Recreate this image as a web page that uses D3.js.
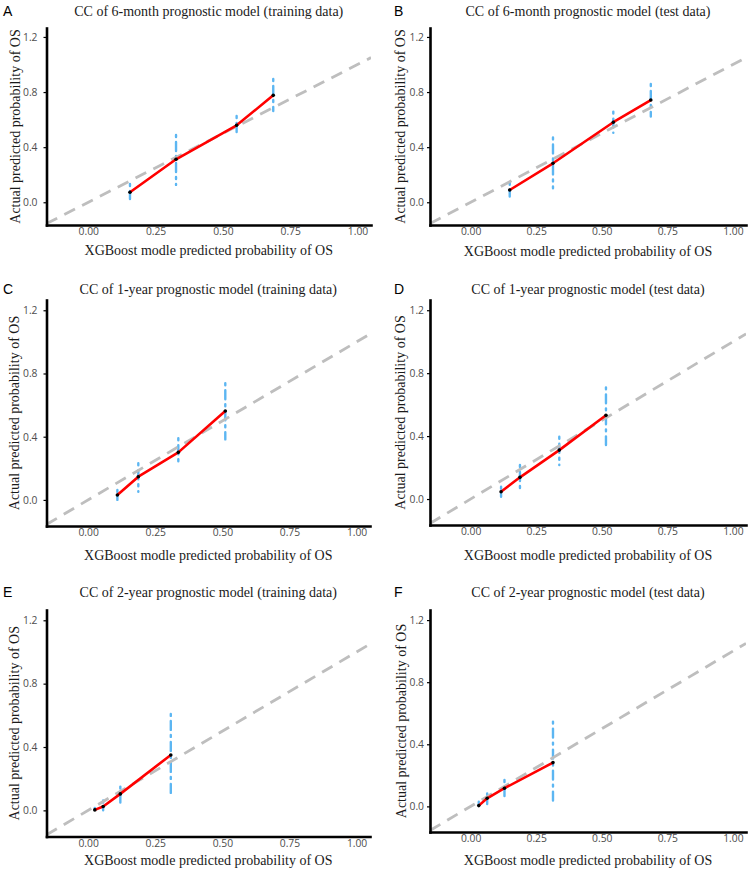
<!DOCTYPE html>
<html><head><meta charset="utf-8">
<script src="https://cdn.jsdelivr.net/npm/d3@7"></script>
<style>body{margin:0;background:#fff}</style>
</head><body><svg id="c" width="753" height="872"></svg>
<script>
// ---- data ----
const panelLetters = ["A", "B", "C", "D", "E", "F"];
const panelTitles = [
  "CC of 6-month prognostic model (training data)",
  "CC of 6-month prognostic model (test data)",
  "CC of 1-year prognostic model (training data)",
  "CC of 1-year prognostic model (test data)",
  "CC of 2-year prognostic model (training data)",
  "CC of 2-year prognostic model (test data)"
];
const xAxisTitle = "XGBoost modle predicted probability of OS";
const yAxisTitle = "Actual predicted probability of OS";
const xTicks = [0, 0.25, 0.5, 0.75, 1.0];
const yTicks = [0, 0.4, 0.8, 1.2];

// predicted (x), observed (y), CI lower, CI upper
const predA = [0.155, 0.326, 0.551, 0.687];
const obsA  = [0.073, 0.312, 0.559, 0.776];
const lowA  = [0.024, 0.126, 0.481, 0.663];
const highA = [0.133, 0.488, 0.626, 0.895];

const predB = [0.149, 0.314, 0.544, 0.687];
const obsB  = [0.089, 0.283, 0.581, 0.742];
const lowB  = [0.041, 0.102, 0.505, 0.622];
const highB = [0.142, 0.471, 0.658, 0.859];

const predC = [0.109, 0.187, 0.336, 0.511];
const obsC  = [0.031, 0.147, 0.301, 0.563];
const lowC  = [0.000, 0.052, 0.215, 0.383];
const highC = [0.063, 0.232, 0.390, 0.738];

const predD = [0.116, 0.188, 0.338, 0.516];
const obsD  = [0.046, 0.138, 0.311, 0.532];
const lowD  = [0.015, 0.057, 0.216, 0.343];
const highD = [0.078, 0.216, 0.396, 0.710];

const predE = [0.025, 0.056, 0.120, 0.308];
const obsE  = [0.003, 0.024, 0.104, 0.350];
const lowE  = [0.000, 0.000, 0.049, 0.087];
const highE = [0.016, 0.062, 0.150, 0.609];

const predF = [0.031, 0.063, 0.129, 0.314];
const obsF  = [0.005, 0.052, 0.117, 0.282];
const lowF  = [0.000, 0.015, 0.063, 0.009];
const highF = [0.030, 0.084, 0.170, 0.546];

const xDomain = [-0.155, 1.05];
const yDomain = [-0.165, 1.265];

// ---- layout (positions only) ----
const layout = [
  {left: 46.5, right: 371, top: 28,  bottom: 225,   titleY: 16,  letterX: 3,   letterY: 16,  xTitleY: 255, yTitleX: 20,  pad: 6},
  {left: 430,  right: 746, top: 28,  bottom: 225,   titleY: 16,  letterX: 394, letterY: 16,  xTitleY: 256, yTitleX: 405, pad: 3},
  {left: 46.5, right: 370, top: 300, bottom: 526,   titleY: 294, letterX: 3,   letterY: 294, xTitleY: 560, yTitleX: 19,  pad: 6},
  {left: 430,  right: 746, top: 300, bottom: 525,   titleY: 294, letterX: 394, letterY: 294, xTitleY: 560, yTitleX: 405, pad: 3},
  {left: 46.5, right: 370, top: 610, bottom: 836.5, titleY: 597, letterX: 3,   letterY: 597, xTitleY: 865, yTitleX: 19,  pad: 6},
  {left: 430,  right: 746, top: 610, bottom: 832,   titleY: 597, letterX: 394, letterY: 597, xTitleY: 865, yTitleX: 406, pad: 3}
];

const seriesSets = [
  [predA, obsA, lowA, highA],
  [predB, obsB, lowB, highB],
  [predC, obsC, lowC, highC],
  [predD, obsD, lowD, highD],
  [predE, obsE, lowE, highE],
  [predF, obsF, lowF, highF]
];

const svg = d3.select("#c");
const serif = "'Liberation Serif', 'Times New Roman', serif";
const sans = "'Liberation Sans', Arial, sans-serif";
const tickFont = "'Open Sans', 'DejaVu Sans', sans-serif";

layout.forEach((L, i) => {
  const [pred, obs, low, high] = seriesSets[i];
  const pts = pred.map((p, j) => ({x: p, y: obs[j], lo: low[j], hi: high[j]}));
  const x = d3.scaleLinear().domain(xDomain).range([L.left, L.right]);
  const y = d3.scaleLinear().domain(yDomain).range([L.bottom, L.top]);
  const g = svg.append("g");

  const clipId = "clip" + i;
  g.append("clipPath").attr("id", clipId).append("rect")
    .attr("x", L.left).attr("y", L.top)
    .attr("width", L.right - L.left).attr("height", L.bottom - L.top);
  const plot = g.append("g").attr("clip-path", `url(#${clipId})`);

  // CI bars
  plot.selectAll("line.ci").data(pts).enter().append("line")
    .attr("x1", d => x(d.x)).attr("x2", d => x(d.x))
    .attr("y1", d => y(d.hi)).attr("y2", d => y(d.lo))
    .attr("stroke", "#5CB6F2").attr("stroke-width", 2.4)
    .attr("stroke-dasharray", "2,5,9,5").attr("stroke-linecap", "round");

  // reference diagonal
  plot.append("line")
    .attr("x1", x(xDomain[0])).attr("y1", y(xDomain[0]))
    .attr("x2", x(xDomain[1])).attr("y2", y(xDomain[1]))
    .attr("stroke", "#BEBEBE").attr("stroke-width", 2.8)
    .attr("stroke-dasharray", "12,8");

  // calibration line
  plot.append("path").datum(pts)
    .attr("d", d3.line().x(d => x(d.x)).y(d => y(d.y)))
    .attr("fill", "none").attr("stroke", "#FF0000").attr("stroke-width", 2.6)
    .attr("stroke-linejoin", "round");

  plot.selectAll("circle").data(pts).enter().append("circle")
    .attr("cx", d => x(d.x)).attr("cy", d => y(d.y)).attr("r", 1.8)
    .attr("fill", "#000");

  // axes
  const xa = g.append("g").attr("transform", `translate(0,${L.bottom})`)
    .call(d3.axisBottom(x).tickValues(xTicks).tickFormat(d3.format(".2f")).tickSize(0).tickSizeOuter(0).tickPadding(3));
  const ya = g.append("g").attr("transform", `translate(${L.left},0)`)
    .call(d3.axisLeft(y).tickValues(yTicks).tickFormat(d3.format(".1f")).tickSize(3).tickSizeOuter(0).tickPadding(L.pad));
  [xa, ya].forEach(a => {
    a.select(".domain").attr("stroke", "#000").attr("stroke-width", 2.6).attr("stroke-linecap", "square");
    a.selectAll(".tick line").attr("stroke", "#000").attr("stroke-width", 1.2);
    a.selectAll(".tick text").attr("fill", "#4D4D4D").style("font-family", tickFont).style("font-size", "10.3px");
  });

  // titles
  const cx = (L.left + L.right) / 2;
  g.append("text").attr("x", cx).attr("y", L.titleY).attr("text-anchor", "middle")
    .style("font-family", serif).style("font-size", "14px").attr("fill", "#1a1a1a")
    .text(panelTitles[i]);
  g.append("text").attr("x", L.letterX).attr("y", L.letterY)
    .style("font-family", sans).style("font-size", "14px").attr("fill", "#000")
    .text(panelLetters[i]);
  g.append("text").attr("x", cx).attr("y", L.xTitleY).attr("text-anchor", "middle")
    .style("font-family", serif).style("font-size", "14px").attr("fill", "#1a1a1a")
    .text(xAxisTitle);
  g.append("text")
    .attr("transform", `translate(${L.yTitleX},${(L.top + L.bottom) / 2}) rotate(-90)`)
    .attr("text-anchor", "middle")
    .style("font-family", serif).style("font-size", "14px").attr("fill", "#1a1a1a")
    .text(yAxisTitle);
});
</script></body></html>
